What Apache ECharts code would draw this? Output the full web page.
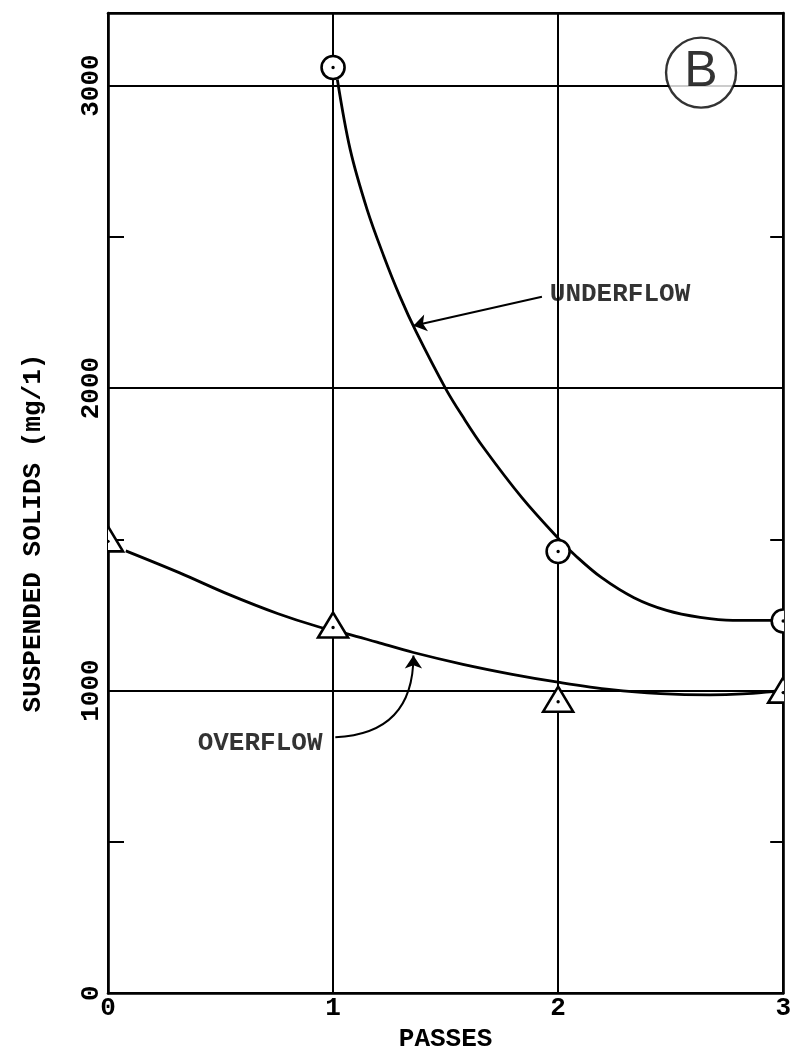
<!DOCTYPE html>
<html><head><meta charset="utf-8">
<script src="https://cdn.jsdelivr.net/npm/echarts@6/dist/echarts.min.js"></script>
<style>html,body{margin:0;padding:0;background:#fff;overflow:hidden}#c{width:794px;height:1057px}</style>
</head><body><div id="c"></div>
<script>
// measured points
const underflowPasses = [1, 2, 3];
const underflowSS = [3060, 1460, 1230];
const overflowPasses = [0, 1, 2, 3];
const overflowSS = [1500, 1215, 970, 1000];

// hand-drawn fitted curves
const underflowCurveX = [1.019, 1.076, 1.151, 1.225, 1.296, 1.370, 1.502, 1.577, 1.665, 1.840, 2.007, 2.073, 2.192, 2.337, 2.482, 2.631, 2.776, 2.952, 3.0];
const underflowCurveY = [3020, 2789, 2591, 2437, 2305, 2185, 1996, 1905, 1807, 1637, 1498, 1449, 1374, 1307, 1265, 1242, 1232, 1232, 1232];
const overflowCurveX = [0.079, 0.316, 0.536, 0.756, 0.931, 1.067, 1.195, 1.357, 1.577, 1.796, 1.999, 2.236, 2.455, 2.675, 2.820, 2.952, 3.0];
const overflowCurveY = [1462, 1390, 1318, 1254, 1212, 1187, 1160, 1126, 1087, 1054, 1028, 1003, 990, 986, 989, 997, 1001];

// axis labels
const xTickLabels = [0, 1, 2, 3];
const yTickLabels = [0, 1000, 2000, 3000];

// annotations (data coordinates)
const underflowArrow = [[1.928, 2302], [1.357, 2206]];
const overflowArrow = [[1.357, 1116], [1.010, 846]];
const underflowLabelAt = [1.963, 2308];
const overflowLabelAt = [0.953, 826];
const badgeAt = [2.635, 3043];

const FONT = '"Liberation Mono", monospace';
const BLACK = '#000';

function zip(a, b) { return a.map((v, i) => [v, b[i]]); }

const chart = echarts.init(document.getElementById('c'), null, {renderer: 'canvas'});

function markerItem(shape) {
  return function (params, api) {
    const p = api.coord([api.value(0), api.value(1)]);
    if (shape === 'circle') {
      return {type: 'group', children: [
        {type: 'circle', shape: {cx: p[0], cy: p[1], r: 11.5}, style: {fill: '#fff', stroke: BLACK, lineWidth: 2.6}},
        {type: 'circle', shape: {cx: p[0], cy: p[1], r: 1.7}, style: {fill: BLACK}}
      ]};
    }
    return {type: 'group', children: [
      {type: 'polygon', shape: {points: [[p[0], p[1] - 13], [p[0] + 15, p[1] + 12], [p[0] - 15, p[1] + 12]]}, style: {fill: '#fff', stroke: BLACK, lineWidth: 2.6, lineJoin: 'miter'}},
      {type: 'circle', shape: {cx: p[0], cy: p[1] + 2, r: 1.7}, style: {fill: BLACK}}
    ]};
  };
}

const textStyle = {fontFamily: FONT, fontSize: 26, color: BLACK, fontWeight: 'bold'};

const option = {
  backgroundColor: '#fff',
  animation: false,
  grid: {left: 108, right: 3, top: 13, bottom: 60, containLabel: false},
  xAxis: [{
    type: 'value', min: 0, max: 3, interval: 1, position: 'bottom',
    name: 'PASSES', nameLocation: 'middle', nameGap: 30,
    nameTextStyle: Object.assign({}, textStyle),
    axisLine: {show: true, onZero: false, lineStyle: {color: BLACK, width: 2.6}},
    axisTick: {show: false},
    axisLabel: Object.assign({margin: 2, formatter: v => xTickLabels.includes(v) ? String(v) : ''}, textStyle),
    splitLine: {show: true, lineStyle: {color: BLACK, width: 2}}
  }, {
    type: 'value', min: 0, max: 3, interval: 1, position: 'top',
    axisLine: {show: true, onZero: false, lineStyle: {color: BLACK, width: 2.6}},
    axisTick: {show: false}, axisLabel: {show: false}, splitLine: {show: false}
  }],
  yAxis: [{
    type: 'value', min: 0, max: 3240, interval: 500, position: 'left',
    name: 'SUSPENDED SOLIDS (mg/1)', nameLocation: 'middle', nameGap: 62,
    nameTextStyle: Object.assign({padding: [0, 60, 0, 0]}, textStyle),
    axisLine: {show: true, onZero: false, lineStyle: {color: BLACK, width: 2.6}},
    axisTick: {show: true, inside: true, length: 16, lineStyle: {color: BLACK, width: 2}},
    axisLabel: Object.assign({rotate: 90, margin: 4, formatter: v => yTickLabels.includes(v) ? String(v) : ''}, textStyle),
    splitLine: {show: false}
  }, {
    type: 'value', min: 0, max: 3240, interval: 500, position: 'right',
    axisLine: {show: true, onZero: false, lineStyle: {color: BLACK, width: 2.6}},
    axisTick: {show: true, inside: true, length: 13, lineStyle: {color: BLACK, width: 2}},
    axisLabel: {show: false}, splitLine: {show: false}
  }, {
    type: 'value', min: 0, max: 3240, interval: 1000, position: 'left',
    axisLine: {show: false}, axisTick: {show: false}, axisLabel: {show: false},
    splitLine: {show: true, lineStyle: {color: BLACK, width: 2}}
  }],
  series: [
    {
      name: 'Underflow curve', type: 'line', xAxisIndex: 0, yAxisIndex: 0,
      data: zip(underflowCurveX, underflowCurveY), smooth: 0.35, showSymbol: false,
      lineStyle: {color: BLACK, width: 2.8}, z: 2
    },
    {
      name: 'Overflow curve', type: 'line', xAxisIndex: 0, yAxisIndex: 0,
      data: zip(overflowCurveX, overflowCurveY), smooth: 0.35, showSymbol: false,
      lineStyle: {color: BLACK, width: 2.8}, z: 2
    },
    {
      name: 'Underflow', type: 'custom', xAxisIndex: 0, yAxisIndex: 0, clip: true,
      renderItem: markerItem('circle'), data: zip(underflowPasses, underflowSS), z: 4
    },
    {
      name: 'Overflow', type: 'custom', xAxisIndex: 0, yAxisIndex: 0, clip: true,
      renderItem: markerItem('triangle'), data: zip(overflowPasses, overflowSS), z: 4
    },
    {
      name: 'Arrows', type: 'lines', coordinateSystem: 'cartesian2d', xAxisIndex: 0, yAxisIndex: 0,
      symbol: ['arrow', 'none'], symbolSize: 13,
      lineStyle: {color: BLACK, width: 2, opacity: 1},
      data: [
        {coords: [underflowArrow[1], underflowArrow[0]], lineStyle: {curveness: 0}},
        {coords: overflowArrow, lineStyle: {curveness: 0.48}}
      ], z: 5
    },
    {
      name: 'Labels', type: 'scatter', xAxisIndex: 0, yAxisIndex: 0, symbolSize: 0,
      data: [
        {value: underflowLabelAt, name: 'UNDERFLOW', label: {align: 'left'}},
        {value: overflowLabelAt, name: 'OVERFLOW', label: {align: 'right'}}
      ],
      label: Object.assign({show: true, position: [0, 0], verticalAlign: 'middle', formatter: '{b}'}, textStyle),
      z: 5
    },
    {
      name: 'Badge', type: 'scatter', xAxisIndex: 0, yAxisIndex: 0,
      symbol: 'circle', symbolSize: 70,
      itemStyle: {color: '#fff', borderColor: BLACK, borderWidth: 2.4},
      data: [{value: badgeAt, name: 'B'}],
      label: {show: true, position: 'inside', formatter: '{b}',
        fontFamily: '"Liberation Sans", sans-serif', fontSize: 50, color: BLACK},
      z: 5
    }
  ]
};
chart.setOption(option);
</script>
</body></html>
